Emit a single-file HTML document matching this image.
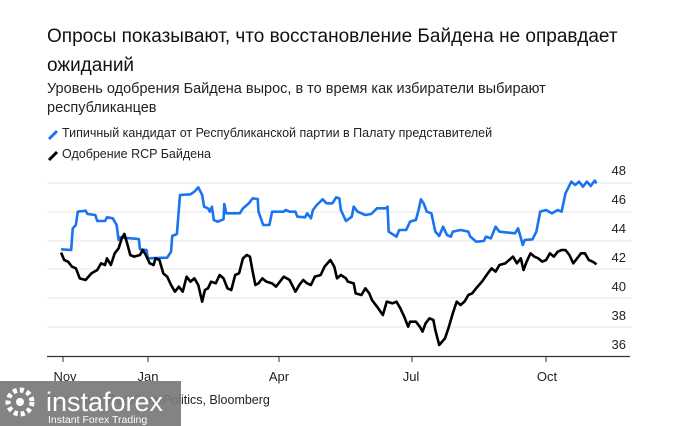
<!DOCTYPE html>
<html><head><meta charset="utf-8"><style>
body{margin:0;width:675px;height:426px;background:#fff;font-family:"Liberation Sans",sans-serif;position:relative;overflow:hidden}
.t{position:absolute;left:47px;top:22px;font-size:19px;line-height:29px;color:#111;width:600px}
.s{position:absolute;left:47px;top:80px;font-size:14.5px;line-height:19px;color:#222;width:600px}
.l{position:absolute;left:62px;font-size:12.5px;color:#222}
</style></head><body>
<div class="t">Опросы показывают, что восстановление Байдена не оправдает ожиданий</div>
<div class="s">Уровень одобрения Байдена вырос, в то время как избиратели выбирают республиканцев</div>
<div class="l" style="top:126px">Типичный кандидат от Республиканской партии в Палату представителей</div>
<div class="l" style="top:147px">Одобрение RCP Байдена</div>
<svg width="675" height="426" style="position:absolute;left:0;top:0" font-family="Liberation Sans, sans-serif">
<line x1="49" y1="139" x2="57" y2="131" stroke="#1a73f0" stroke-width="3"/>
<line x1="49" y1="160" x2="57" y2="152" stroke="#000" stroke-width="3"/>
<g stroke="#e6e6e6" stroke-width="1">
<line x1="47" y1="183" x2="632" y2="183"/><line x1="47" y1="212" x2="632" y2="212"/><line x1="47" y1="241" x2="632" y2="241"/><line x1="47" y1="269" x2="632" y2="269"/><line x1="47" y1="298" x2="632" y2="298"/><line x1="47" y1="327" x2="632" y2="327"/>
</g>
<g font-size="13" fill="#222" text-anchor="end">
<text x="626" y="175">48</text><text x="626" y="204">46</text><text x="626" y="233">44</text><text x="626" y="262">42</text><text x="626" y="291">40</text><text x="626" y="320">38</text><text x="626" y="349">36</text>
</g>
<line x1="47" y1="356.5" x2="630" y2="356.5" stroke="#333" stroke-width="1.2"/>
<g stroke="#333"><line x1="63" y1="356" x2="63" y2="362"/><line x1="148" y1="356" x2="148" y2="362"/><line x1="279" y1="356" x2="279" y2="362"/><line x1="412" y1="356" x2="412" y2="362"/><line x1="546" y1="356" x2="546" y2="362"/></g>
<g font-size="13" fill="#222" text-anchor="middle">
<text x="65" y="381">Nov</text><text x="148" y="381">Jan</text><text x="279" y="381">Apr</text><text x="411" y="381">Jul</text><text x="547" y="381">Oct</text>
</g>
<g transform="translate(37,160) scale(0.3886,0.33333)" fill="none" stroke-width="2.6" stroke-linejoin="round">
<polyline vector-effect="non-scaling-stroke" stroke="#1a73f0" points="62,268 88,270 92,205 100,195 105,155 125,152 130,162 150,165 155,183 175,183 180,172 195,175 205,195 210,240 212,232 240,235 262,237 265,268 282,270 285,295 335,293 345,275 348,228 360,222 368,105 395,103 405,95 415,82 425,105 430,140 440,145 445,155 450,140 455,180 465,185 480,178 482,132 487,160 522,160 530,145 545,130 555,115 568,117 570,155 582,195 598,195 605,155 635,155 640,150 650,155 665,155 670,170 690,172 695,160 705,175 710,150 720,135 735,118 745,130 760,130 770,112 778,115 782,150 795,183 810,170 815,140 825,155 845,165 860,162 875,145 898,145 902,140 905,215 925,230 932,210 950,210 960,185 975,180 982,150 988,118 995,130 1003,155 1015,160 1025,215 1035,228 1045,200 1055,225 1065,230 1070,215 1090,210 1110,215 1115,230 1130,245 1150,243 1155,230 1168,235 1175,215 1180,200 1190,215 1230,220 1238,205 1243,225 1250,255 1255,240 1275,238 1285,215 1295,155 1310,150 1325,160 1340,150 1350,155 1360,100 1375,65 1385,75 1395,65 1405,80 1415,65 1425,78 1435,62 1440,70"/>
<polyline vector-effect="non-scaling-stroke" stroke="#000" points="62,278 70,300 80,305 90,320 100,325 110,355 125,360 140,340 155,330 165,310 175,315 180,295 190,315 200,280 210,265 218,235 225,222 232,250 240,285 250,290 265,285 272,270 280,285 290,310 300,315 305,295 315,300 325,340 335,350 345,375 355,395 365,380 375,395 385,350 395,365 405,355 415,375 425,425 432,390 440,385 448,365 460,370 470,345 480,355 490,385 500,390 510,345 520,340 530,295 540,285 548,290 555,335 562,375 570,370 580,355 590,365 605,370 615,380 625,365 635,350 650,360 665,395 675,375 685,360 695,370 705,375 715,350 730,345 740,320 755,300 765,320 772,355 782,345 795,355 800,365 815,370 820,400 835,405 845,385 855,400 862,420 875,440 890,465 900,425 915,430 925,425 935,445 945,470 955,500 960,485 975,485 985,500 992,515 1000,490 1010,475 1020,480 1025,510 1035,555 1050,535 1060,500 1070,460 1080,425 1090,435 1100,425 1110,405 1120,400 1130,385 1145,365 1160,340 1170,325 1180,335 1190,315 1205,310 1215,300 1225,290 1235,310 1245,295 1252,330 1260,305 1270,280 1280,290 1290,295 1300,305 1310,300 1320,280 1330,290 1340,275 1350,270 1360,270 1370,285 1380,310 1390,295 1400,280 1410,280 1420,300 1430,305 1440,313"/>
</g>
<text x="47" y="404" font-size="12.5" fill="#222">Источник: RealClearPolitics, Bloomberg</text>
<rect x="0" y="381" width="181" height="45" fill="#7a7a7a" opacity="0.93"/>
<circle cx="20" cy="402" r="12" fill="none" stroke="#fff" stroke-width="5" stroke-dasharray="4 3"/>
<circle cx="20" cy="402" r="4" fill="#fff"/>
<text x="46" y="411" font-size="27" fill="#fff">instaforex</text>
<text x="48" y="423" font-size="10.5" fill="#fff">Instant Forex Trading</text>
</svg>
</body></html>
